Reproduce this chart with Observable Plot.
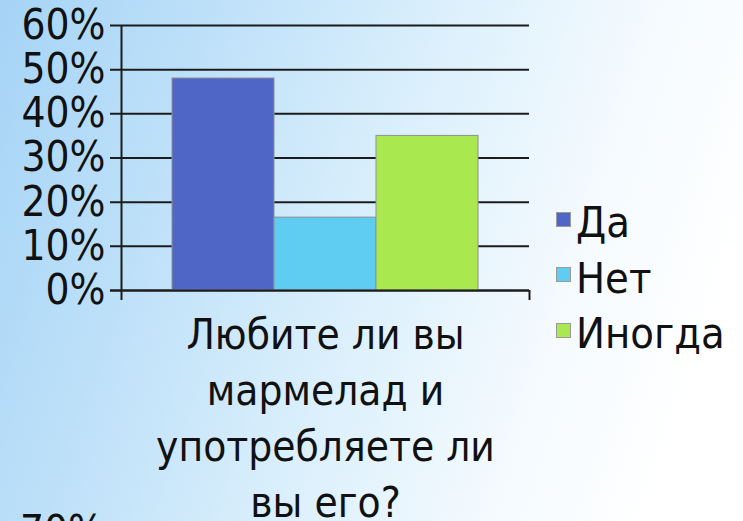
<!DOCTYPE html>
<html>
<head>
<meta charset="utf-8">
<script src="https://cdn.jsdelivr.net/npm/d3@7"></script>
<script src="https://cdn.jsdelivr.net/npm/@observablehq/plot@0.6"></script>
<style>
  html, body { margin: 0; padding: 0; }
  #wrap {
    position: relative; width: 743px; height: 521px; overflow: hidden;
    background: linear-gradient(108deg, #a6d4f6 0%, #bfe1f9 25%, #dcf0fc 50%, #f4fafe 72%, #ffffff 90%);
    font-family: "DejaVu Sans Condensed", "DejaVu Sans", sans-serif;
    color: #111;
  }
  #chart { position: absolute; left: 0; top: 0; }
  .item { position: absolute; left: 556px; height: 50px; display: flex; align-items: center; font-size: 43px; }
  .sw { width: 15px; height: 15px; margin-right: 5px; box-sizing: border-box; border: 1px solid #9a9a9a; margin-top: -6px; }
  #cut { position: absolute; left: 20px; top: 510px; font-size: 42px; line-height: 42px; }
</style>
</head>
<body>
<div id="wrap">
  <div id="chart"></div>
  <div id="legend"></div>
  <div id="cut">70%</div>
</div>
<script>
const categories = ["Да", "Нет", "Иногда"];
const values = [48, 16.5, 35];
const colors = ["#4f66c7", "#5fcdf2", "#a9e94f"];
const yTicks = [0, 10, 20, 30, 40, 50, 60];
const xLabel = "Любите ли вы\nмармелад и\nупотребляете ли\nвы его?";

const data = categories.map((c, i) => ({ c, i, v: values[i] }));

const chart = Plot.plot({
  width: 743,
  height: 521,
  marginLeft: 121,
  marginRight: 214,
  marginTop: 25,
  marginBottom: 231,
  style: { background: "transparent", overflow: "visible", fontSize: "42px", fontFamily: "'DejaVu Sans Condensed', 'DejaVu Sans', sans-serif", color: "#111" },
  x: { domain: [-0.5, 3.5], axis: null },
  y: { domain: [0, 60], ticks: yTicks, tickSize: 0, tickPadding: 16, tickFormat: d => d + "%", label: null },
  color: { domain: categories, range: colors },
  marks: [
    Plot.ruleY(yTicks, { stroke: "#1c1c1c", strokeWidth: 2, insetLeft: -11 }),
    Plot.rectY(data, { x1: "i", x2: d => d.i + 1, y: "v", fill: "c", stroke: "#8f8f8f", strokeWidth: 1 }),
    Plot.ruleY([0], { stroke: "#1c1c1c", strokeWidth: 2, insetLeft: -11 }),
    Plot.ruleX([-0.5], { stroke: "#1c1c1c", strokeWidth: 2, insetBottom: -10 }),
    Plot.ruleX([3.5], { stroke: "#1c1c1c", strokeWidth: 2, insetTop: 265, insetBottom: -10 }),
    Plot.text([xLabel], { x: () => 1.5, y: () => 0, text: d => d, lineAnchor: "top", dy: 19, lineHeight: 1.33, fontSize: 42, fill: "#111" })
  ]
});
document.getElementById("chart").appendChild(chart);

const legend = document.getElementById("legend");
categories.forEach((c, i) => {
  const it = document.createElement("div");
  it.className = "item";
  it.style.top = (197 + i * 55.5) + "px";
  const sw = document.createElement("span");
  sw.className = "sw";
  sw.style.background = colors[i];
  const t = document.createElement("span");
  t.textContent = c;
  it.appendChild(sw); it.appendChild(t);
  legend.appendChild(it);
});
</script>
</body>
</html>
